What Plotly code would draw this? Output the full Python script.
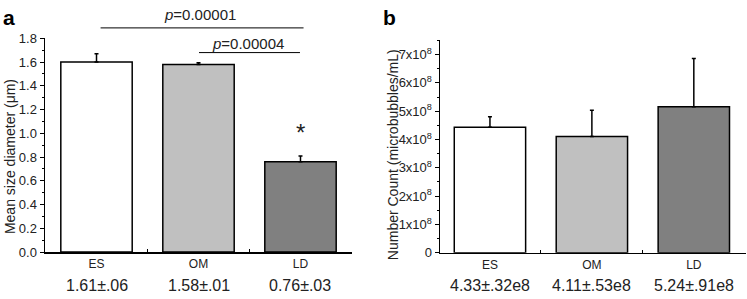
import plotly.graph_objects as go

categories = ["ES", "OM", "LD"]
bar_colors = ["#ffffff", "#c0c0c0", "#808080"]

# Panel a: mean size diameter (um)
size_mean = [1.60, 1.58, 0.76]
size_err = [0.07, 0.015, 0.05]
size_labels = ["1.61±.06", "1.58±.01", "0.76±.03"]

# Panel b: number count (microbubbles/mL)
count_mean = [4.43e8, 4.11e8, 5.16e8]
count_err = [0.37e8, 0.92e8, 1.70e8]
count_labels = ["4.33±.32e8", "4.11±.53e8", "5.24±.91e8"]
count_tickvals = [0, 1e8, 2e8, 3e8, 4e8, 5e8, 6e8, 7e8]
count_ticktext = ["0"] + [f"{i}x10<sup>8</sup>" for i in range(1, 8)]

xpos = [0, 1, 2]
FONT = "Liberation Sans, Arial, sans-serif"
W, H = 747, 299

def px(x):
    return x / W

def py(y):
    return (H - y) / H

fig = go.Figure()
fig.add_trace(go.Bar(
    x=xpos, y=size_mean, width=0.7,
    marker=dict(color=bar_colors, line=dict(color="black", width=1.5)),
    error_y=dict(type="data", symmetric=False, array=size_err,
                 arrayminus=[0, 0, 0], color="black", thickness=1.5, width=2),
    xaxis="x", yaxis="y", showlegend=False))
fig.add_trace(go.Bar(
    x=xpos, y=count_mean, width=0.7,
    marker=dict(color=bar_colors, line=dict(color="black", width=1.5)),
    error_y=dict(type="data", symmetric=False, array=count_err,
                 arrayminus=[0, 0, 0], color="black", thickness=1.5, width=2),
    xaxis="x2", yaxis="y2", showlegend=False))

xcommon = dict(tickvals=xpos, ticktext=categories, ticks="", showline=True,
               linecolor="black", linewidth=1.5, zeroline=False, showgrid=False,
               tickfont=dict(size=12, color="#222"), fixedrange=True,
               minor=dict(tickvals=[0.5, 1.5], ticks="inside", ticklen=3,
                          tickcolor="black", tickwidth=1))
ycommon = dict(showline=True, linecolor="black", linewidth=1.5, ticks="outside",
               ticklen=4, tickwidth=1, tickcolor="black", showgrid=False,
               zeroline=False, tickfont=dict(size=13, color="#222"), fixedrange=True)

fig.update_layout(
    width=W, height=H, margin=dict(l=0, r=0, t=0, b=0),
    paper_bgcolor="white", plot_bgcolor="white",
    font=dict(family=FONT, color="#222"),
    bargap=0,
    xaxis=dict(domain=[px(45), px(352)], range=[-0.505, 2.505], anchor="y", **xcommon),
    yaxis=dict(domain=[py(258), py(33)], range=[0, 1.8], dtick=0.2, tickformat=".1f",
               anchor="x",
               minor=dict(dtick=0.1, ticks="outside", ticklen=2, tickcolor="black", tickwidth=1),
               **ycommon),
    xaxis2=dict(domain=[px(440), px(745.5)], range=[-0.49, 2.507], anchor="y2", **xcommon),
    yaxis2=dict(domain=[py(258.7), py(35.2)], range=[0, 7.5e8], tickvals=count_tickvals,
                ticktext=count_ticktext, anchor="x2",
                minor=dict(dtick=0.5e8, tick0=0, ticks="outside", ticklen=2,
                           tickcolor="black", tickwidth=1),
                **ycommon),
)

ann = []
common_anchor = dict(xanchor="center", yanchor="middle", showarrow=False)
# value labels under categories
for i, t in enumerate(size_labels):
    ann.append(dict(x=xpos[i], y=py(293), xref="x", yref="paper", text=t,
                    font=dict(size=16, color="#222"), **common_anchor))
for i, t in enumerate(count_labels):
    ann.append(dict(x=xpos[i], y=py(293), xref="x2", yref="paper", text=t,
                    font=dict(size=16, color="#222"), **common_anchor))
# axis titles
ann.append(dict(x=px(10), y=py(158), xref="paper", yref="paper", text="Mean size diameter (μm)",
                textangle=-90, font=dict(size=14, color="#222"), **common_anchor))
ann.append(dict(x=px(393), y=py(156), xref="paper", yref="paper",
                text="Number Count (microbubbles/mL)", textangle=-90,
                font=dict(size=14, color="#222"), **common_anchor))
# panel letters
ann.append(dict(x=px(9), y=py(11), xref="paper", yref="paper", text="<b>a</b>",
                font=dict(size=21, color="black"), **common_anchor))
ann.append(dict(x=px(389), y=py(11), xref="paper", yref="paper", text="<b>b</b>",
                font=dict(size=21, color="black"), **common_anchor))
# p-values
ann.append(dict(x=1.015, y=py(8), xref="x", yref="paper", text="<i>p</i>=0.00001",
                font=dict(size=15, color="#222"), **common_anchor))
ann.append(dict(x=1.485, y=py(38), xref="x", yref="paper", text="<i>p</i>=0.00004",
                font=dict(size=15, color="#222"), **common_anchor))
ann.append(dict(x=2.0, y=1.01, xref="x", yref="y", text="*",
                font=dict(size=24, color="#222"), **common_anchor))
fig.update_layout(annotations=ann)

fig.add_shape(type="line", xref="x", yref="paper", x0=0.04, x1=2.03, y0=py(22), y1=py(22),
              line=dict(color="black", width=1))
fig.add_shape(type="line", xref="x", yref="paper", x0=1.005, x1=1.995, y0=py(48), y1=py(48),
              line=dict(color="black", width=1))

fig.write_html("out.html", config={"displayModeBar": False, "staticPlot": True},
               post_script="document.body.style.margin='0';document.body.style.overflow='hidden';")
